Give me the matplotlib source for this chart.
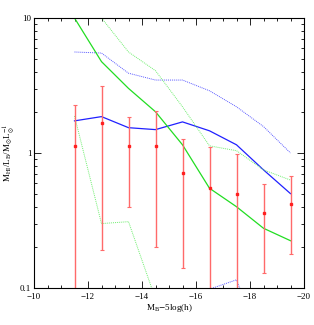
import matplotlib
matplotlib.use("Agg")
import matplotlib.pyplot as plt
from matplotlib.ticker import MultipleLocator, LogLocator, NullFormatter, FixedLocator, FixedFormatter

mag = [-11.5, -12.5, -13.5, -14.5, -15.5, -16.5, -17.5, -18.5, -19.5]

# observed points with errors
obs = [1.12, 1.68, 1.13, 1.12, 0.71, 0.55, 0.50, 0.36, 0.42]
obs_hi = [2.26, 3.15, 1.84, 2.06, 1.28, 1.11, 0.98, 0.59, 0.67]
obs_lo = [0.05, 0.19, 0.40, 0.20, 0.14, 0.05, 0.05, 0.13, 0.18]

# blue model: median and band
blue_mid = [1.73, 1.86, 1.54, 1.49, 1.70, 1.46, 1.15, 0.75, 0.50]
blue_hi = [5.6, 5.5, 3.9, 3.47, 3.47, 2.89, 2.20, 1.57, 1.0]
blue_lo_mag = [-16.5, -17.5, -18.5]
blue_lo = [0.098, 0.115, 0.035]

# green model: median and band
green_mid = [10.0, 4.75, 3.01, 2.02, 1.15, 0.548, 0.40, 0.277, 0.224]
green_hi_mag = [-12.5, -13.5, -14.5, -15.5, -16.5, -17.5, -18.5, -19.5]
green_hi = [10.0, 5.6, 4.07, 2.2, 1.13, 1.04, 0.75, 0.63]
green_lo_mag = [-11.5, -12.5, -13.5, -14.5]
green_lo = [1.88, 0.30, 0.31, 0.083]

plt.rcParams['font.family'] = ['Liberation Serif', 'DejaVu Serif']
plt.rcParams['mathtext.fontset'] = 'stix'

fig = plt.figure(figsize=(3.14, 3.25), dpi=100)
ax = fig.add_axes([34/314, 1-288/325, 270/314, 270/325])

dot = (0, (1, 1))
ax.plot(mag, blue_hi, color='#5a5aff', lw=0.7, ls=dot)
ax.plot(blue_lo_mag, blue_lo, color='#5a5aff', lw=0.7, ls=dot)
ax.plot(mag, blue_mid, color='#2020ff', lw=0.9)
ax.plot(green_hi_mag, green_hi, color='#70ee70', lw=0.7, ls=dot)
ax.plot(green_lo_mag, green_lo, color='#70ee70', lw=0.7, ls=dot)
ax.plot(mag, green_mid, color='#22dd22', lw=0.9)

yerr = [[o - l for o, l in zip(obs, obs_lo)], [h - o for o, h in zip(obs, obs_hi)]]
ax.errorbar(mag, obs, yerr=yerr, fmt='s', ms=2.0, color='#ff2020', ecolor='#ff6a6a',
            elinewidth=1.0, capsize=1.6, capthick=0.8, mec='#ff2020')

ax.set_xlim(-10, -20)
ax.set_yscale('log')
ax.set_ylim(0.1, 10)

ax.xaxis.set_minor_locator(MultipleLocator(0.5))
ax.set_xticks([-10, -12, -14, -16, -18, -20])
ax.set_xticklabels(['\u221210', '\u221212', '\u221214', '\u221216', '\u221218', '\u221220'])
ax.yaxis.set_major_locator(FixedLocator([0.1, 1, 10]))
ax.yaxis.set_major_formatter(FixedFormatter(['0.1', '1', '10']))
ax.yaxis.set_minor_locator(LogLocator(base=10, subs=range(2, 10)))
ax.yaxis.set_minor_formatter(NullFormatter())

ax.tick_params(which='both', direction='in', top=True, right=True, labelsize=6.5, width=0.6)
ax.tick_params(axis='x', which='major', pad=3.5)
ax.tick_params(axis='y', which='major', pad=2)
ax.tick_params(which='major', length=5)
ax.tick_params(which='minor', length=2.5)
for s in ax.spines.values():
    s.set_linewidth(0.8)

ax.set_xlabel(r'M$_{\rm B}$$-$5log(h)', fontsize=6.5, labelpad=1)
ax.set_ylabel(r'M$_{\rm HI}$/L$_{\rm B}$/M$_{\odot}$L$_{\odot}^{-1}$', fontsize=6.5, labelpad=2)

fig.savefig('out.png', dpi=100)
